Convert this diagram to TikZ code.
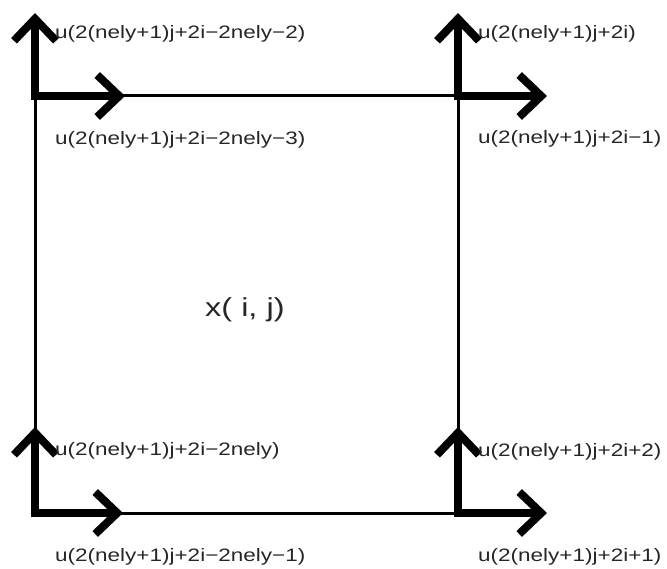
\documentclass[tikz,border=0pt]{standalone}
\usepackage{fontspec}
\setmainfont{Liberation Sans}
\newfontfamily\lblfont[FakeStretch=1.25]{Liberation Sans}
\usetikzlibrary{arrows.meta,positioning,calc}

\begin{document}
\begin{tikzpicture}[x=1pt, y=-1pt,
    lbl/.style={anchor=west, inner sep=0pt, text=black!85,
      font={\fontsize{18}{20}\lblfont}},
    edge/.style={line width=3pt},
    dof/.style={-{Straight Barb[length=22pt,width=42pt]}, line width=8pt,
      line cap=rect}
  ]
    \useasboundingbox (0,0) rectangle (667,569);
    % element corners
    \coordinate (tl) at (35,96);
    \coordinate (tr) at (458,96);
    \coordinate (bl) at (35,513);
    \coordinate (br) at (458,513);
    \draw[edge] (tl) -- (tr) -- (br) -- (bl) -- cycle;
    % arrow ends
    \coordinate[above=83pt of tl] (tlu);
    \coordinate[right=90pt of tl] (tlr);
    \coordinate[above=83pt of tr] (tru);
    \coordinate[right=89pt of tr] (trr);
    \coordinate[above=86pt of bl] (blu);
    \coordinate[right=88pt of bl] (blr);
    \coordinate[above=86pt of br] (bru);
    \coordinate[right=89pt of br] (brr);
    \draw[dof] (tl) -- (tlu);
    \draw[dof] (tl) -- (tlr);
    \draw[dof] (tr) -- (tru);
    \draw[dof] (tr) -- (trr);
    \draw[dof] (bl) -- (blu);
    \draw[dof] (bl) -- (blr);
    \draw[dof] (br) -- (bru);
    \draw[dof] (br) -- (brr);
    % dof labels
    \node[lbl] (utlu) at (55,34) {u(2(nely+1)j+2i−2nely−2)};
    \node[lbl] (utlr) at (55,140) {u(2(nely+1)j+2i−2nely−3)};
    \node[lbl] (utru) at (478,34) {u(2(nely+1)j+2i)};
    \node[lbl] (utrr) at (478,139) {u(2(nely+1)j+2i−1)};
    \node[lbl] (ublu) at (55,451) {u(2(nely+1)j+2i−2nely)};
    \node[lbl] (ublr) at (55,557) {u(2(nely+1)j+2i−2nely−1)};
    \node[lbl] (ubru) at (478,452) {u(2(nely+1)j+2i+2)};
    \node[lbl] (ubrr) at (478,557) {u(2(nely+1)j+2i+1)};
    \node[lbl, font={\fontsize{26}{28}\lblfont}] (elem) at (205,310) {x( i, j)};
\end{tikzpicture}
\end{document}
